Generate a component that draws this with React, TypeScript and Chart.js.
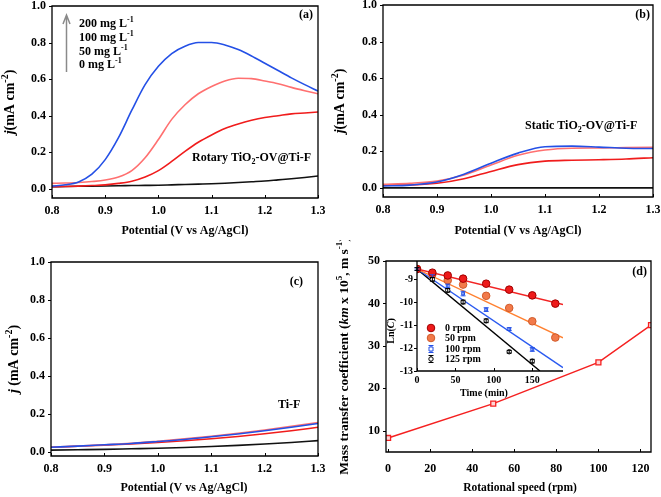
import React, { useEffect, useRef } from "react";
import { Chart, registerables } from "chart.js";
Chart.register(...registerables);

const FONT = '"Liberation Serif", "Times New Roman", serif';

// ---------- Panel (a): Rotary TiO2-OV@Ti-F ----------
const potentialA = [0.8, 0.825, 0.85, 0.875, 0.9, 0.925, 0.95, 0.975, 1.0, 1.025, 1.05, 1.075, 1.1, 1.125, 1.15, 1.175, 1.2, 1.225, 1.25, 1.275, 1.3];
const rot200 = [0.015, 0.022, 0.038, 0.08, 0.16, 0.28, 0.43, 0.57, 0.67, 0.74, 0.78, 0.8, 0.8, 0.787, 0.762, 0.727, 0.687, 0.647, 0.607, 0.57, 0.535];
const rot100 = [0.03, 0.032, 0.035, 0.04, 0.048, 0.065, 0.1, 0.17, 0.27, 0.38, 0.46, 0.52, 0.56, 0.59, 0.605, 0.603, 0.59, 0.575, 0.555, 0.537, 0.52];
const rot50 = [0.012, 0.013, 0.015, 0.018, 0.022, 0.03, 0.042, 0.065, 0.1, 0.15, 0.205, 0.255, 0.295, 0.33, 0.355, 0.375, 0.39, 0.4, 0.41, 0.415, 0.42];
const rot0 = [0.012, 0.013, 0.014, 0.015, 0.016, 0.017, 0.018, 0.019, 0.02, 0.022, 0.024, 0.026, 0.028, 0.031, 0.035, 0.039, 0.043, 0.049, 0.055, 0.062, 0.07];

// ---------- Panel (b): Static TiO2-OV@Ti-F ----------
const potentialB = [0.8, 0.85, 0.9, 0.95, 1.0, 1.05, 1.1, 1.15, 1.2, 1.25, 1.3];
const sta200 = [0.01, 0.015, 0.032, 0.075, 0.135, 0.19, 0.225, 0.228, 0.223, 0.217, 0.215];
const sta100 = [0.02, 0.025, 0.037, 0.07, 0.125, 0.178, 0.207, 0.217, 0.218, 0.22, 0.222];
const sta50 = [0.015, 0.016, 0.025, 0.05, 0.09, 0.127, 0.146, 0.151, 0.154, 0.158, 0.165];
const sta0 = [0, 0, 0, 0, 0, 0, 0, 0, 0, 0, 0];

// ---------- Panel (c): Ti-F ----------
const potentialC = [0.8, 0.85, 0.9, 0.95, 1.0, 1.05, 1.1, 1.15, 1.2, 1.25, 1.3];
const tif200 = [0.025, 0.031, 0.038, 0.045, 0.055, 0.066, 0.08, 0.095, 0.112, 0.13, 0.15];
const tif100 = [0.025, 0.031, 0.038, 0.046, 0.057, 0.069, 0.083, 0.099, 0.116, 0.135, 0.155];
const tif50 = [0.025, 0.03, 0.036, 0.042, 0.05, 0.059, 0.07, 0.082, 0.096, 0.112, 0.13];
const tif0 = [0.01, 0.012, 0.014, 0.017, 0.02, 0.024, 0.029, 0.035, 0.042, 0.05, 0.06];

const potentialTicks = [0.8, 0.9, 1.0, 1.1, 1.2, 1.3];
const currentTicks = [0, 0.2, 0.4, 0.6, 0.8, 1.0];
const concLabels = ["200", "100", "50", "0"];

// ---------- Panel (d): mass transfer ----------
const speeds = [0, 50, 100, 125];
const kmValues = [8.3, 16.4, 26.1, 34.9];
const speedTicks = [0, 20, 40, 60, 80, 100, 120];
const kmTicks = [10, 20, 30, 40, 50];

// ---------- Inset ----------
const times = [0, 20, 40, 60, 90, 120, 150, 180];
const ln0 = [-8.55, -8.71, -8.83, -8.97, -9.19, -9.45, -9.7, -10.06];
const ln50 = [-8.55, -8.78, -9.04, -9.23, -9.72, -10.25, -10.83, -11.54];
const times100 = [0, 20, 40, 60, 90, 120, 150];
const ln100 = [-8.55, -8.86, -9.29, -9.62, -10.32, -11.17, -12.06];
const err100 = [0.05, 0.06, 0.08, 0.1, 0.08, 0.06, 0.08];
const ln125 = [-8.55, -9.0, -9.48, -9.99, -10.81, -12.16, -12.57];
const err125 = [0.06, 0.08, 0.08, 0.08, 0.08, 0.06, 0.08];
const fitTimes = [0, 190];
const fit0 = [-8.55, -10.1];
const fit50 = [-8.55, -11.55];
const fit100 = [-8.55, -12.85];
const fitTimes125 = [0, 160];
const fit125 = [-8.55, -13.0];
const timeTicks = [0, 50, 100, 150];
const lnTicks = [-13, -12, -11, -10, -9];
const rpmLabels = ["0 rpm", "50 rpm", "100 rpm", "125 rpm"];

const BLUE = "#2450e6";
const SALMON = "#ff7070";
const RED = "#f01c1c";
const BLACK = "#111111";

const pts = (xs: number[], ys: number[]) => xs.map((x, i) => ({ x, y: ys[i] }));

type Seg = { t: string; sup?: boolean; sub?: boolean; it?: boolean };
function segFont(s: Seg, size: number) {
  const sz = s.sup || s.sub ? Math.round(size * 0.68) : size;
  return `${s.it ? "italic " : ""}bold ${sz}px ${FONT}`;
}
function drawRich(ctx: CanvasRenderingContext2D, segs: Seg[], x: number, y: number, size: number, align = "left", rot = false) {
  ctx.save();
  ctx.translate(x, y);
  if (rot) ctx.rotate(-Math.PI / 2);
  let total = 0;
  const ws = segs.map((s) => {
    ctx.font = segFont(s, size);
    const w = ctx.measureText(s.t).width;
    total += w;
    return w;
  });
  let cx = align === "left" ? 0 : align === "center" ? -total / 2 : -total;
  ctx.textBaseline = "middle";
  ctx.textAlign = "left";
  ctx.fillStyle = "#000";
  segs.forEach((s, i) => {
    ctx.font = segFont(s, size);
    const dy = s.sup ? -size * 0.36 : s.sub ? size * 0.3 : 0;
    ctx.fillText(s.t, cx, dy);
    cx += ws[i];
  });
  ctx.restore();
}

function framePlugin(full: boolean, tl: number) {
  return {
    id: "frame",
    afterDraw(chart: any) {
      const { ctx, chartArea: a } = chart;
      const xs = chart.scales.x;
      const ys = chart.scales.y;
      ctx.save();
      ctx.strokeStyle = "#000";
      ctx.lineWidth = 1.3;
      ctx.beginPath();
      if (full) {
        ctx.rect(a.left, a.top, a.right - a.left, a.bottom - a.top);
      } else {
        ctx.moveTo(a.left, a.top);
        ctx.lineTo(a.left, a.bottom);
        ctx.lineTo(a.right, a.bottom);
      }
      ctx.stroke();
      ctx.lineWidth = 1;
      ctx.beginPath();
      xs.ticks.forEach((t: any) => {
        const px = Math.round(xs.getPixelForValue(t.value)) + 0.5;
        ctx.moveTo(px, a.bottom);
        ctx.lineTo(px, a.bottom - tl);
      });
      ys.ticks.forEach((t: any) => {
        const py = Math.round(ys.getPixelForValue(t.value)) + 0.5;
        ctx.moveTo(a.left, py);
        ctx.lineTo(a.left - tl, py);
      });
      ctx.stroke();
      ctx.restore();
    },
  };
}

function decoPlugin(fn: (ctx: CanvasRenderingContext2D, chart: any) => void) {
  return {
    id: "deco",
    afterDraw(chart: any) {
      fn(chart.ctx, chart);
    },
  };
}

const errorBarPlugin = {
  id: "errbars",
  afterDatasetsDraw(chart: any) {
    const ctx = chart.ctx;
    const ys = chart.scales.y;
    chart.data.datasets.forEach((ds: any, i: number) => {
      if (!ds.errs) return;
      const meta = chart.getDatasetMeta(i);
      ctx.save();
      ctx.strokeStyle = ds.borderColor;
      ctx.lineWidth = 1;
      meta.data.forEach((p: any, j: number) => {
        const v = ds.data[j].y;
        const y1 = ys.getPixelForValue(v + ds.errs[j]);
        const y2 = ys.getPixelForValue(v - ds.errs[j]);
        ctx.beginPath();
        ctx.moveTo(p.x, y1);
        ctx.lineTo(p.x, y2);
        ctx.moveTo(p.x - 2.5, y1);
        ctx.lineTo(p.x + 2.5, y1);
        ctx.moveTo(p.x - 2.5, y2);
        ctx.lineTo(p.x + 2.5, y2);
        ctx.stroke();
      });
      ctx.restore();
    });
  },
};

type Area = { l: number; t: number; r: number; b: number };
function makeConfig(o: {
  w: number; h: number; area: Area;
  xMin: number; xMax: number; yMin: number; yMax: number;
  xTicks: number[]; yTicks: number[];
  xFmt: (v: number) => string; yFmt: (v: number) => string;
  datasets: any[]; tickSize: number; xPad: number; yPad: number;
  full: boolean; tl: number; deco: (ctx: CanvasRenderingContext2D, chart: any) => void;
}) {
  const tickFont = { family: FONT, size: o.tickSize, weight: "bold" as const };
  return {
    type: "line" as const,
    data: { datasets: o.datasets },
    options: {
      responsive: false,
      animation: false as const,
      layout: { padding: { left: 0, top: o.area.t, right: o.w - o.area.r, bottom: 0 } },
      plugins: { legend: { display: false }, tooltip: { enabled: false } },
      scales: {
        x: {
          type: "linear" as const,
          min: o.xMin,
          max: o.xMax,
          afterBuildTicks: (s: any) => { s.ticks = o.xTicks.map((v) => ({ value: v })); },
          afterFit: (s: any) => { s.height = o.h - o.area.b; s.paddingLeft = 0; s.paddingRight = 0; },
          grid: { display: false, drawTicks: false },
          border: { display: false },
          ticks: { color: "#000", font: tickFont, padding: o.xPad, maxRotation: 0, autoSkip: false, callback: (v: any) => o.xFmt(Number(v)) },
        },
        y: {
          type: "linear" as const,
          min: o.yMin,
          max: o.yMax,
          afterBuildTicks: (s: any) => { s.ticks = o.yTicks.map((v) => ({ value: v })); },
          afterFit: (s: any) => { s.width = o.area.l; s.paddingTop = 0; s.paddingBottom = 0; },
          grid: { display: false, drawTicks: false },
          border: { display: false },
          ticks: { color: "#000", font: tickFont, padding: o.yPad, autoSkip: false, callback: (v: any) => o.yFmt(Number(v)) },
        },
      },
    },
    plugins: [errorBarPlugin, framePlugin(o.full, o.tl), decoPlugin(o.deco)],
  };
}

const curve = (xs: number[], ys: number[], color: string) => ({
  data: pts(xs, ys),
  borderColor: color,
  borderWidth: 1.6,
  pointRadius: 0,
  fill: false,
  cubicInterpolationMode: "monotone" as const,
});

const jTitle = (space: boolean): Seg[] => [
  { t: "j", it: true },
  { t: space ? " (mA cm" : "(mA cm" },
  { t: "-2", sup: true },
  { t: ")" },
];
const potTitle = "Potential (V vs Ag/AgCl)";

function Panel({ left, top, w, h, build }: { left: number; top: number; w: number; h: number; build: () => any }) {
  const ref = useRef<HTMLCanvasElement | null>(null);
  useEffect(() => {
    if (!ref.current) return;
    const c = new Chart(ref.current, build());
    return () => c.destroy();
  }, []);
  return <canvas ref={ref} width={w} height={h} style={{ position: "absolute", left, top, width: w, height: h }} />;
}

const f1 = (v: number) => v.toFixed(1);
const f0 = (v: number) => String(Math.round(v));

function buildA() {
  return makeConfig({
    w: 330, h: 240, area: { l: 52, t: 6, r: 318, b: 198 },
    xMin: 0.8, xMax: 1.3, yMin: -0.05, yMax: 1.0,
    xTicks: potentialTicks, yTicks: currentTicks, xFmt: f1, yFmt: f1,
    datasets: [curve(potentialA, rot200, BLUE), curve(potentialA, rot100, SALMON), curve(potentialA, rot50, RED), curve(potentialA, rot0, BLACK)],
    tickSize: 12, xPad: 6, yPad: 6, full: true, tl: 3,
    deco: (ctx) => {
      drawRich(ctx, jTitle(false), 10, 102, 14, "center", true);
      drawRich(ctx, [{ t: potTitle }], 185, 231, 12, "center");
      drawRich(ctx, [{ t: "(a)" }], 313, 15, 12, "right");
      ctx.save();
      ctx.strokeStyle = "#8a8a8a";
      ctx.lineWidth = 1.5;
      ctx.beginPath();
      ctx.moveTo(66.5, 72);
      ctx.lineTo(66.5, 15);
      ctx.moveTo(63, 24);
      ctx.lineTo(66.5, 15);
      ctx.lineTo(70, 24);
      ctx.stroke();
      ctx.restore();
      const rowsY = [24, 38, 52, 65];
      concLabels.forEach((c, i) => {
        drawRich(ctx, [{ t: `${c} mg L` }, { t: "-1", sup: true }], 79, rowsY[i], 12, "left");
      });
      drawRich(ctx, [{ t: "Rotary TiO" }, { t: "2", sub: true }, { t: "-OV@Ti-F" }], 192, 158, 12, "left");
    },
  });
}

function buildB() {
  return makeConfig({
    w: 331, h: 240, area: { l: 53, t: 5, r: 323, b: 197 },
    xMin: 0.8, xMax: 1.3, yMin: -0.05, yMax: 1.0,
    xTicks: potentialTicks, yTicks: currentTicks, xFmt: f1, yFmt: f1,
    datasets: [curve(potentialB, sta200, BLUE), curve(potentialB, sta100, SALMON), curve(potentialB, sta50, RED), curve(potentialB, sta0, BLACK)],
    tickSize: 12, xPad: 6, yPad: 6, full: true, tl: 3,
    deco: (ctx) => {
      drawRich(ctx, jTitle(false), 10, 101, 14, "center", true);
      drawRich(ctx, [{ t: potTitle }], 188, 231, 12, "center");
      drawRich(ctx, [{ t: "(b)" }], 320, 15, 12, "right");
      drawRich(ctx, [{ t: "Static TiO" }, { t: "2", sub: true }, { t: "-OV@Ti-F" }], 195, 126, 12, "left");
    },
  });
}

function buildC() {
  return makeConfig({
    w: 330, h: 257, area: { l: 51, t: 22, r: 318, b: 216 },
    xMin: 0.8, xMax: 1.3, yMin: -0.021, yMax: 1.0,
    xTicks: potentialTicks, yTicks: currentTicks, xFmt: f1, yFmt: f1,
    datasets: [curve(potentialC, tif200, BLUE), curve(potentialC, tif100, SALMON), curve(potentialC, tif50, RED), curve(potentialC, tif0, BLACK)],
    tickSize: 12, xPad: 6, yPad: 6, full: true, tl: 3,
    deco: (ctx) => {
      drawRich(ctx, jTitle(true), 14, 119, 14, "center", true);
      drawRich(ctx, [{ t: potTitle }], 184, 248, 12, "center");
      drawRich(ctx, [{ t: "(c)" }], 303, 42, 12, "right");
      drawRich(ctx, [{ t: "Ti-F" }], 278, 165, 12, "left");
    },
  });
}

function buildD() {
  return makeConfig({
    w: 331, h: 257, area: { l: 56, t: 21, r: 321, b: 212 },
    xMin: -1, xMax: 125, yMin: 5, yMax: 50,
    xTicks: speedTicks, yTicks: kmTicks, xFmt: f0, yFmt: f0,
    datasets: [
      {
        data: pts(speeds, kmValues),
        borderColor: "#f52020",
        borderWidth: 1.5,
        pointStyle: "rect",
        pointRadius: 3.5,
        pointBorderWidth: 1.3,
        pointBackgroundColor: "#ffd6d6",
        pointBorderColor: "#f52020",
        fill: false,
        tension: 0,
      },
    ],
    tickSize: 12, xPad: 10, yPad: 6, full: true, tl: 3,
    deco: (ctx) => {
      drawRich(
        ctx,
        [{ t: "Mass transfer coefficient (" }, { t: "km", it: true }, { t: " x 10" }, { t: "5", sup: true }, { t: ", m s" }, { t: "-1", sup: true }, { t: ")" }],
        15, 116, 13.5, "center", true
      );
      drawRich(ctx, [{ t: "Rotational speed (rpm)" }], 190, 248, 11.5, "center");
      drawRich(ctx, [{ t: "(d)" }], 317, 32, 12, "right");
    },
  });
}

function drawLegendMarker(ctx: CanvasRenderingContext2D, kind: number, x: number, y: number) {
  ctx.save();
  ctx.lineWidth = 1;
  if (kind === 0) {
    ctx.fillStyle = "#ee1a1a";
    ctx.strokeStyle = "#a00000";
    ctx.beginPath();
    ctx.arc(x, y, 3.8, 0, Math.PI * 2);
    ctx.fill();
    ctx.stroke();
  } else if (kind === 1) {
    ctx.fillStyle = "#f27a4a";
    ctx.strokeStyle = "#d05a2a";
    ctx.beginPath();
    ctx.arc(x, y, 3.8, 0, Math.PI * 2);
    ctx.fill();
    ctx.stroke();
  } else {
    const col = kind === 2 ? BLUE : "#000";
    ctx.strokeStyle = col;
    ctx.fillStyle = "#fff";
    ctx.beginPath();
    ctx.moveTo(x, y - 3.5);
    ctx.lineTo(x, y + 3.5);
    ctx.moveTo(x - 2.5, y - 3.5);
    ctx.lineTo(x + 2.5, y - 3.5);
    ctx.moveTo(x - 2.5, y + 3.5);
    ctx.lineTo(x + 2.5, y + 3.5);
    ctx.stroke();
    ctx.beginPath();
    if (kind === 2) ctx.rect(x - 2, y - 2, 4, 4);
    else ctx.arc(x, y, 2.2, 0, Math.PI * 2);
    ctx.fill();
    ctx.stroke();
  }
  ctx.restore();
}

function buildInset() {
  const fitLine = (xs: number[], ys: number[], color: string) => ({
    data: pts(xs, ys),
    borderColor: color,
    borderWidth: 1.4,
    pointRadius: 0,
    fill: false,
    tension: 0,
  });
  const scatter = (xs: number[], ys: number[], style: string, r: number, bg: string, bc: string, errs?: number[]) => ({
    data: pts(xs, ys),
    showLine: false,
    pointStyle: style,
    pointRadius: r,
    pointBackgroundColor: bg,
    pointBorderColor: bc,
    pointBorderWidth: 1,
    borderColor: bc,
    errs,
  });
  return makeConfig({
    w: 200, h: 150, area: { l: 47, t: 11, r: 193, b: 121 },
    xMin: 0, xMax: 190, yMin: -13, yMax: -8.2,
    xTicks: timeTicks, yTicks: lnTicks, xFmt: f0, yFmt: f0,
    datasets: [
      scatter(times, ln0, "circle", 3.8, "#ee1a1a", "#a00000"),
      scatter(times, ln50, "circle", 3.8, "#f27a4a", "#d05a2a"),
      scatter(times100, ln100, "rect", 2, "#ffffff", BLUE, err100),
      scatter(times100, ln125, "circle", 2.2, "#ffffff", "#000000", err125),
      fitLine(fitTimes, fit0, "#f22424"),
      fitLine(fitTimes, fit50, "#ff8030"),
      fitLine(fitTimes, fit100, "#2a5af0"),
      fitLine(fitTimes125, fit125, "#000000"),
    ],
    tickSize: 10, xPad: 3, yPad: 4, full: false, tl: 3,
    deco: (ctx) => {
      drawRich(ctx, [{ t: "Ln(" }, { t: "C", it: true }, { t: ")" }], 21, 81, 10, "center", true);
      drawRich(ctx, [{ t: "Time (min)" }], 114, 143, 10, "center");
      const rowsY = [78, 88, 99, 109];
      rpmLabels.forEach((lab, i) => {
        drawLegendMarker(ctx, i, 61, rowsY[i]);
        drawRich(ctx, [{ t: lab }], 75, rowsY[i], 10, "left");
      });
    },
  });
}

export default function App() {
  return (
    <div style={{ position: "absolute", left: 0, top: 0, width: 661, height: 497, background: "#fff", overflow: "hidden" }}>
      <Panel left={0} top={0} w={330} h={240} build={buildA} />
      <Panel left={330} top={0} w={331} h={240} build={buildB} />
      <Panel left={0} top={240} w={330} h={257} build={buildC} />
      <Panel left={330} top={240} w={331} h={257} build={buildD} />
      <Panel left={370} top={250} w={200} h={150} build={buildInset} />
    </div>
  );
}
